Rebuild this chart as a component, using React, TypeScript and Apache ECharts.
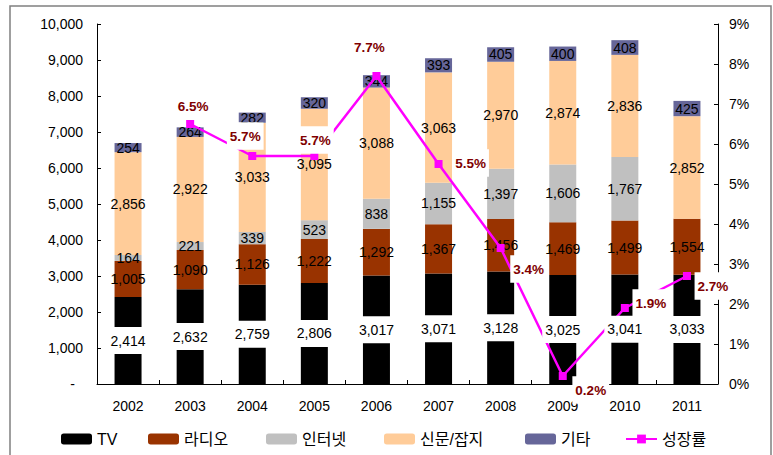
import React, { useEffect, useRef } from "react";
import * as echarts from "echarts";

const years = ["2002", "2003", "2004", "2005", "2006", "2007", "2008", "2009", "2010", "2011"];
const tv = [2414, 2632, 2759, 2806, 3017, 3071, 3128, 3025, 3041, 3033];
const radio = [1005, 1090, 1126, 1222, 1292, 1367, 1456, 1469, 1499, 1554];
const internet: (number | null)[] = [164, 221, 339, 523, 838, 1155, 1397, 1606, 1767, null];
const printMedia = [2856, 2922, 3033, 3095, 3088, 3063, 2970, 2874, 2836, 2852];
const others = [254, 264, 282, 320, 344, 393, 405, 400, 408, 425];
const growth: (number | null)[] = [null, 6.5, 5.7, 5.7, 7.7, 5.5, 3.4, 0.2, 1.9, 2.7];

const seriesNames = ["TV", "라디오", "인터넷", "신문/잡지", "기타", "성장률"];
const barColors = ["#000000", "#993300", "#C0C0C0", "#FFCC99", "#666699"];
const lineColor = "#FF00FF";
const growthLabelOffsets: [number, number][] = [
  [0, 0], [3, -18], [-7, -20], [1, -16], [-7, -29], [32, -1], [28, 21], [28, 14], [26, -5], [26, 10],
];
const legendLefts = [56, 143, 261, 379, 520, 620];

const FONT = '"Liberation Sans", Arial, "Noto Sans CJK KR", sans-serif';
const fmt = (v: number) => v.toLocaleString("en-US");

export default function App() {
  const ref = useRef<HTMLDivElement>(null);
  useEffect(() => {
    document.body.style.margin = "0";
    const chart = echarts.init(ref.current!, null, { renderer: "svg" });
    const barData = [tv, radio, internet, printMedia, others];
    const barSeries = barData.map((d, i) => ({
      name: seriesNames[i],
      type: "bar",
      stack: "total",
      barWidth: 27,
      data: d,
      z: 2,
      itemStyle: { color: barColors[i] },
      label: {
        show: i !== 0,
        position: "inside",
        color: "#000",
        fontSize: 14,
        fontFamily: FONT,
        formatter: (p: any) => (p.value == null ? "" : fmt(p.value)),
      },
    }));
    const option: any = {
      animation: false,
      textStyle: { fontFamily: FONT },
      graphic: [
        {
          type: "rect",
          shape: { x: 10, y: 6, width: 761, height: 470 },
          style: { fill: "none", stroke: "#808080", lineWidth: 1.5 },
          silent: true,
          z: 0,
        },
      ],
      grid: { left: 97, right: 55, top: 24, bottom: 71 },
      legend: seriesNames.map((n, i) => ({
        data: [n],
        left: legendLefts[i],
        top: 426,
        itemWidth: 31,
        itemHeight: 11,
        itemGap: 0,
        selectedMode: false,
        textStyle: { fontSize: 16, color: "#000", fontFamily: FONT },
      })),
      xAxis: {
        type: "category",
        data: years,
        axisLine: { lineStyle: { color: "#000", width: 1 } },
        axisTick: { show: true, inside: true, length: 4, interval: 0, lineStyle: { color: "#000" } },
        axisLabel: { color: "#000", fontSize: 14, margin: 15, fontFamily: FONT },
      },
      yAxis: [
        {
          type: "value",
          min: 0,
          max: 10000,
          interval: 1000,
          splitLine: { show: false },
          axisLine: { show: true, lineStyle: { color: "#000", width: 1 } },
          axisTick: { show: true, inside: true, length: 4, lineStyle: { color: "#000" } },
          axisLabel: {
            color: "#000",
            fontSize: 14,
            margin: 14,
            fontFamily: FONT,
            formatter: (v: number) => (v === 0 ? "{d|-}" : fmt(v)),
            rich: { d: { fontSize: 14, color: "#000", padding: [0, 8, 0, 0] } },
          },
        },
        {
          type: "value",
          min: 0,
          max: 9,
          interval: 1,
          splitLine: { show: false },
          axisLine: { show: true, lineStyle: { color: "#000", width: 1 } },
          axisTick: { show: true, inside: true, length: 4, lineStyle: { color: "#000" } },
          axisLabel: { color: "#000", fontSize: 14, margin: 11, fontFamily: FONT, formatter: "{value}%" },
        },
      ],
      series: [
        ...barSeries,
        {
          name: "성장률",
          type: "line",
          yAxisIndex: 1,
          z: 4,
          symbol: "rect",
          symbolSize: 8,
          data: growth.map((v, i) => ({
            value: v,
            label: { offset: growthLabelOffsets[i] },
          })),
          itemStyle: { color: lineColor },
          lineStyle: { color: lineColor, width: 2.5 },
          label: {
            show: true,
            position: "inside",
            color: "#800000",
            fontWeight: "bold",
            fontSize: 13.5,
            fontFamily: FONT,
            backgroundColor: "#fff",
            padding: [7, 3, 7, 3],
            formatter: (p: any) => (p.value == null ? "" : p.value.toFixed(1) + "%"),
          },
        },
        {
          name: "tvLabel",
          type: "scatter",
          z: 5,
          silent: true,
          symbolSize: 1,
          itemStyle: { color: "rgba(0,0,0,0)", opacity: 1 },
          data: tv.map((v) => v / 2),
          label: {
            show: true,
            position: "inside",
            color: "#000",
            opacity: 1,
            fontSize: 14,
            fontFamily: FONT,
            lineHeight: 10,
            backgroundColor: "#ffffff",
            padding: [0, 3, 17, 3],
            formatter: (p: any) => fmt(tv[p.dataIndex]),
          },
        },
      ],
    };
    chart.setOption(option);
    return () => chart.dispose();
  }, []);
  return <div ref={ref} style={{ width: 773, height: 455 }} />;
}
